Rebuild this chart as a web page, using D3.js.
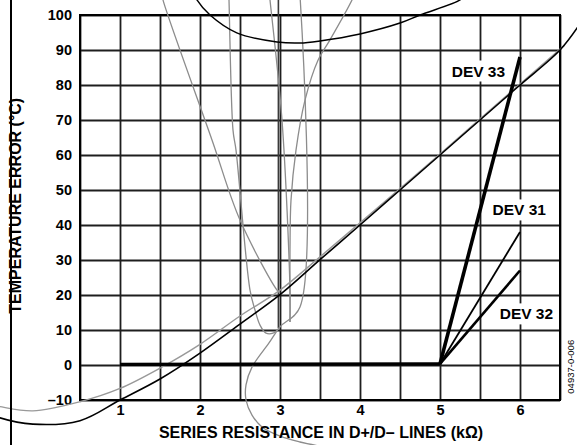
<!DOCTYPE html>
<html>
<head>
<meta charset="utf-8">
<script src="https://cdn.jsdelivr.net/npm/d3@7"></script>
<style>
  html, body { margin: 0; padding: 0; background: #fff; }
  svg { display: block; }
  text { font-family: "Liberation Sans", Arial, Helvetica, sans-serif; }
</style>
</head>
<body>
<svg id="chart" width="577" height="445"></svg>
<script>
// ---------- DATA ----------
const xTicks = [1, 2, 3, 4, 5, 6];
const xGrid = [0.5, 1, 1.5, 2, 2.5, 3, 3.5, 4, 4.5, 5, 5.5, 6, 6.5];
const yTicks = [-10, 0, 10, 20, 30, 40, 50, 60, 70, 80, 90, 100];

// common flat part of all devices
const baseline = [[1, 0.2], [5, 0.3]];
const dev33 = [[5, 0.3], [6, 88]];
const dev31 = [[5, 0.3], [6, 38]];
const dev32 = [[5, 0.3], [6, 27]];

const devLabels = ["DEV 33", "DEV 31", "DEV 32"];
const devLabelAt = [[5.48, 84], [5.99, 44.3], [6.08, 14.6]];

// stray traces visible in the reference (in data units)
const strayBlackCurve = [[-0.55, -14.6], [-0.5, -15.1], [-0.09, -16.9], [0.5, -15.9], [1.0, -10], [1.5, -4],
  [2.0, 3.4], [2.5, 11.7], [3.0, 20.1], [3.5, 30.1], [4.0, 40], [4.5, 50], [5.0, 60],
  [5.5, 70], [6.0, 80], [6.5, 90], [6.75, 97.5]];
const strayGrayCurve = [[-0.55, -11.7], [-0.5, -11.9], [-0.09, -13.1], [0.5, -10.5], [1.0, -6.7], [1.5, -0.9],
  [2.0, 5.9], [2.5, 14], [3.0, 21.4], [3.5, 30.9], [4.0, 40.6], [5.0, 60.3], [6.0, 80.3], [6.56, 91.4]];
const strayTopArc = [[1.94, 105.5], [1.9625, 104.3], [2.125, 100], [2.46, 94.9], [2.9625, 92.3], [3.25, 92],
  [3.5, 92.6], [4.0, 94.6], [4.5, 97.7], [4.75, 100], [5.25, 104.3], [5.3, 105.5]];
const strayDiagonal = [[1.53, 105.5], [1.5375, 104.3], [2.15, 64.3], [2.5, 41.4], [2.9625, 21.4], [3.0, 20.6]];
const strayLoop = [[2.36, 105.5], [2.3625, 104.3], [2.4125, 67.1], [2.45, 61.4], [2.625, 21.4], [2.6875, 15.7],
  [2.75, 11.4], [2.825, 9.1], [2.9125, 9.1], [3.0, 10.9]];
const straySCurve = [[3.25, 105.5], [3.25, 16.6], [3.0, 10.9], [2.8625, 6.3], [2.65, -0.6], [2.575, -5.7],
  [2.575, -10], [2.65, -14.3], [2.775, -17.7], [3.0, -20.3], [3.25, -22], [3.475, -23.1]];
const strayNarrow1 = [[2.87, 105.5], [2.875, 104.3], [3.025, 70], [3.125, 21.4], [3.125, 12.3]];
const strayNarrow2 = [[3.92, 105.5], [3.9, 104.3], [3.625, 92.9], [3.475, 87.1], [3.3125, 75.7], [3.2, 61.4],
  [3.1375, 47.1], [3.125, 32.9], [3.125, 12.3]];
const strayDarkVertical = [[2.98, 105.5], [2.98, 10.6]];
const strayLeftVertical = [[-0.3625, 105.5], [-0.3625, -23.2]];

const xTitle = "SERIES RESISTANCE IN D+/D\u2013 LINES (k\u03A9)";
const yTitle = "TEMPERATURE ERROR (\u00B0C)";
const figId = "04937-0-006";

// ---------- CHART ----------
const svg = d3.select("#chart");
const W = 577, H = 445;
const mL = 80, mR = 560, mT = 15, mB = 400;
const x = d3.scaleLinear().domain([0.5, 6.5]).range([mL, mR]);
const y = d3.scaleLinear().domain([-10, 100]).range([mB, mT]);
const FONT = "'Liberation Sans', Arial, Helvetica, sans-serif";

svg.append("rect").attr("width", W).attr("height", H).attr("fill", "#fff");

// grid via axes
const gx = svg.append("g").attr("transform", `translate(0,${mB})`)
  .call(d3.axisBottom(x).tickValues(xGrid).tickSize(-(mB - mT)).tickFormat(""));
gx.select(".domain").remove();
gx.selectAll("line").attr("stroke", "#1e1e1e").attr("stroke-width", 1.8);

const gy = svg.append("g").attr("transform", `translate(${mL},0)`)
  .call(d3.axisLeft(y).tickValues(yTicks).tickSize(-(mR - mL)).tickFormat(""));
gy.select(".domain").remove();
gy.selectAll("line").attr("stroke", "#1e1e1e").attr("stroke-width", 1.8);

// frame
svg.append("rect").attr("x", mL).attr("y", mT).attr("width", mR - mL).attr("height", mB - mT)
  .attr("fill", "none").attr("stroke", "#000").attr("stroke-width", 2);

// tick labels
const xl = svg.append("g").attr("transform", `translate(0,${mB})`)
  .call(d3.axisBottom(x).tickValues(xTicks).tickSize(0).tickPadding(5).tickFormat(d3.format("d")));
xl.select(".domain").remove();
xl.selectAll("text").attr("font-size", 14.5).attr("font-weight", "bold").attr("fill", "#000")
  .attr("font-family", FONT);

const yl = svg.append("g").attr("transform", `translate(${mL},0)`)
  .call(d3.axisLeft(y).tickValues(yTicks).tickSize(0).tickPadding(8)
    .tickFormat(d => d < 0 ? "\u2013" + Math.abs(d) : String(d)));
yl.select(".domain").remove();
yl.selectAll("text").attr("font-size", 14.5).attr("font-weight", "bold").attr("fill", "#000")
  .attr("font-family", FONT);

// device labels with white background boxes
devLabels.forEach((t, i) => {
  const g = svg.append("g");
  const tx = g.append("text").text(t)
    .attr("x", x(devLabelAt[i][0])).attr("y", y(devLabelAt[i][1]))
    .attr("text-anchor", "middle").attr("dominant-baseline", "central")
    .attr("font-size", 15.5).attr("font-weight", "bold").attr("fill", "#000");
  const bb = tx.node().getBBox();
  g.insert("rect", "text").attr("x", bb.x - 2).attr("y", bb.y - 2)
    .attr("width", bb.width + 4).attr("height", bb.height + 4).attr("fill", "#fff");
});

const lineLin = d3.line().x(d => x(d[0])).y(d => y(d[1]));
const lineSmooth = d3.line().x(d => x(d[0])).y(d => y(d[1])).curve(d3.curveCatmullRom.alpha(0.5));

function draw(data, gen, color, width) {
  svg.append("path").datum(data).attr("d", gen).attr("fill", "none")
    .attr("stroke", color).attr("stroke-width", width)
    .attr("stroke-linejoin", "round").attr("stroke-linecap", "butt");
}

// stray traces
const gray = "#8c8c8c";
draw(strayDarkVertical, lineLin, "#3a3a3a", 1.6);
draw(strayDiagonal, lineSmooth, gray, 1.3);
draw(strayLoop, lineSmooth, gray, 1.3);
draw(straySCurve, lineSmooth, gray, 1.3);
draw(strayNarrow1, lineSmooth, gray, 1.3);
draw(strayNarrow2, lineSmooth, gray, 1.3);
draw(strayGrayCurve, lineSmooth, "#999", 1.4);
draw(strayBlackCurve, lineSmooth, "#000", 1.6);
draw(strayTopArc, lineSmooth, "#000", 1.5);
draw(strayLeftVertical, lineLin, "#000", 2);

// device data
draw(baseline, lineLin, "#000", 3.2);
draw(dev31, lineLin, "#000", 1.8);
draw(dev32, lineLin, "#000", 2.6);
draw(dev33, lineLin, "#000", 3.6);

// axis titles
svg.append("text").text(xTitle)
  .attr("x", 321).attr("y", 432).attr("text-anchor", "middle").attr("dominant-baseline", "central")
  .attr("font-size", 16).attr("font-weight", "bold").attr("fill", "#000");

svg.append("text").text(yTitle)
  .attr("transform", `translate(15,${y(45.5)}) rotate(-90)`)
  .attr("text-anchor", "middle").attr("dominant-baseline", "central")
  .attr("font-size", 16).attr("font-weight", "bold").attr("fill", "#000");

svg.append("text").text(figId)
  .attr("transform", `translate(570,${y(-0.5)}) rotate(-90)`)
  .attr("text-anchor", "middle").attr("dominant-baseline", "central")
  .attr("font-size", 9.5).attr("fill", "#000");
</script>
</body>
</html>
